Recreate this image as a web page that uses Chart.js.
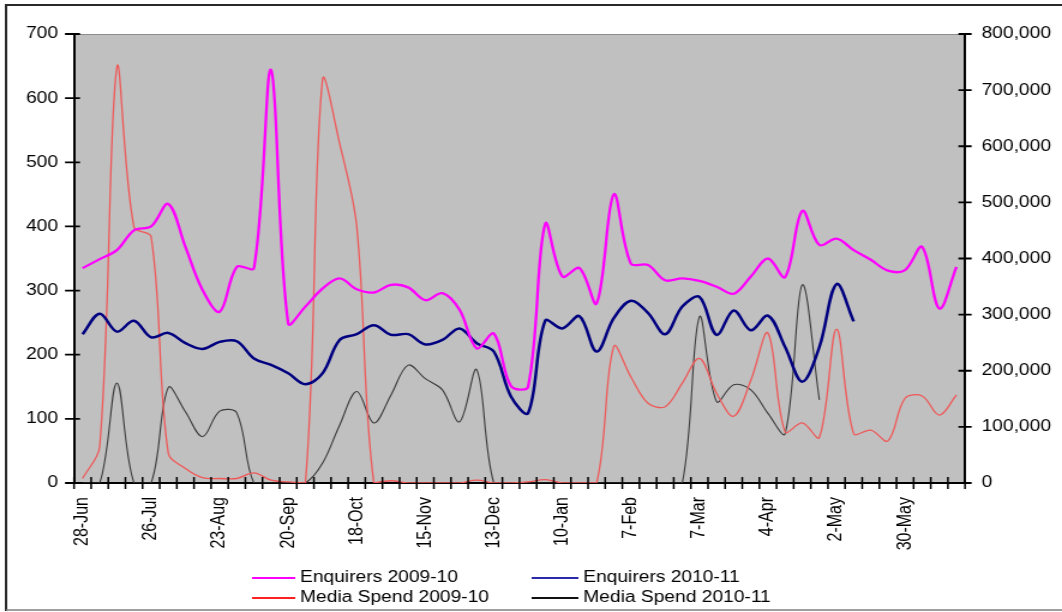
<!DOCTYPE html>
<html>
<head>
<meta charset="utf-8">
<script src="https://cdn.jsdelivr.net/npm/chart.js@4.4.1/dist/chart.umd.min.js"></script>
<style>
html,body{margin:0;padding:0;background:#fff;overflow:hidden;width:1062px;height:612px;}
#wrap{position:absolute;left:0;top:0;width:885px;height:612px;transform:scaleX(1.2);transform-origin:0 0;}
canvas{display:block;}
</style>
</head>
<body>
<div id="wrap"><canvas id="c" width="885" height="612"></canvas></div>
<script>
// ---- data ----
const weeks = ['28-Jun','5-Jul','12-Jul','19-Jul','26-Jul','2-Aug','9-Aug','16-Aug','23-Aug','30-Aug',
  '6-Sep','13-Sep','20-Sep','27-Sep','4-Oct','11-Oct','18-Oct','25-Oct','1-Nov','8-Nov',
  '15-Nov','22-Nov','29-Nov','6-Dec','13-Dec','20-Dec','27-Dec','3-Jan','10-Jan','17-Jan',
  '24-Jan','31-Jan','7-Feb','14-Feb','21-Feb','28-Feb','7-Mar','14-Mar','21-Mar','28-Mar',
  '4-Apr','11-Apr','18-Apr','25-Apr','2-May','9-May','16-May','23-May','30-May','6-Jun',
  '13-Jun','20-Jun'];
const labelEvery = 4;

const enquirers0910 = [335,349,363,394,400,435,368,301,267,337,
  335,644,249,275,303,319,302,297,309,305,
  285,296,270,210,233,151,150,404,322,335,
  280,450,342,340,316,319,315,306,295,322,
  350,321,424,371,381,363,348,331,332,368,
  272,337];
const enquirers1011 = [232,264,236,253,227,234,218,209,220,221,
  194,184,171,154,171,223,232,246,231,232,
  216,223,241,218,205,135,109,253,241,260,
  205,257,284,265,232,275,290,231,269,238,
  261,212,158,212,310,252];
const mediaSpend0910 = [8000,65000,740000,456000,439000,53000,26000,9500,8000,8000,
  18000,5000,2000,0,718000,605000,457000,0,4000,0,
  0,0,0,5000,0,0,2000,6000,0,0,
  0,243000,189000,142000,136000,178000,222000,160000,119000,183000,
  267000,91000,107000,81000,274000,88000,94000,75000,151000,155000,
  121000,157000];
const mediaSpend1011 = [0,0,178000,0,0,170000,127000,82500,128000,125000,
  0,0,0,0,35000,103000,163000,107000,157000,210000,
  186000,166000,109000,202000,0,0,0,0,0,0,
  0,0,0,0,0,0,296000,145000,175000,166000,
  124000,88000,353000,148000];

const leftTickValues = [0,100,200,300,400,500,600,700];
const rightTickValues = [0,100000,200000,300000,400000,500000,600000,700000,800000];

// ---- layout (logical px; the canvas is stretched 1.2x horizontally) ----
const S = 1.2, W = 885, H = 612;
const AREA = {left: 74 / S, right: 965 / S, top: 34, bottom: 483};
const FONT = '"Liberation Sans", Arial, sans-serif';
Chart.defaults.font.family = FONT;
Chart.defaults.font.size = 16;
Chart.defaults.color = '#000';

const decor = {
  id: 'decor',
  beforeDraw(chart) {
    const {ctx, chartArea: a} = chart;
    ctx.save();
    ctx.fillStyle = '#fff';
    ctx.fillRect(0, 0, chart.width, chart.height);
    ctx.fillStyle = '#c0c0c0';
    ctx.fillRect(a.left, a.top, a.right - a.left, a.bottom - a.top);
    ctx.strokeStyle = '#8c8c8c';
    ctx.lineWidth = 1;
    ctx.beginPath();
    ctx.moveTo(a.left, a.top + 0.5);
    ctx.lineTo(a.right, a.top + 0.5);
    ctx.stroke();
    ctx.restore();
  },
  afterDatasetsDraw(chart) {
    const {ctx, chartArea: a, scales} = chart;
    ctx.save();
    ctx.strokeStyle = '#000';
    ctx.lineWidth = 1.8;
    ctx.beginPath();
    scales.y.ticks.forEach(t => {
      const py = scales.y.getPixelForValue(t.value);
      ctx.moveTo(a.left - 7.5, py); ctx.lineTo(a.left + 5, py);
    });
    scales.y1.ticks.forEach(t => {
      const py = scales.y1.getPixelForValue(t.value);
      ctx.moveTo(a.right - 5.5, py); ctx.lineTo(a.right + 5.5, py);
    });
    ctx.stroke();
    ctx.lineWidth = 1.5;
    ctx.beginPath();
    for (let i = 0; i <= weeks.length; i++) {
      const px = scales.x.getPixelForValue(i - 0.5);
      ctx.moveTo(px, a.bottom - 6); ctx.lineTo(px, a.bottom + 6);
    }
    ctx.stroke();
    ctx.restore();
  },
  afterDraw(chart) {
    const {ctx} = chart;
    ctx.save();
    // legend (2 x 2)
    const cols = [{x0: 210, x1: 246, tx: 250}, {x0: 443, x1: 482, tx: 486}];
    const rows = [578, 598];
    ctx.font = '16px ' + FONT;
    ctx.textBaseline = 'middle';
    ctx.textAlign = 'left';
    chart.data.datasets.forEach((ds, i) => {
      const c = cols[i % 2], r = rows[Math.floor(i / 2)];
      ctx.strokeStyle = ds.legendColor || ds.borderColor;
      ctx.lineWidth = 2;
      ctx.beginPath(); ctx.moveTo(c.x0, r); ctx.lineTo(c.x1, r); ctx.stroke();
      ctx.fillStyle = '#000';
      ctx.fillText(ds.label, c.tx, r);
    });
    // outer frame
    ctx.strokeStyle = '#2a2a2a';
    ctx.lineWidth = 2;
    ctx.beginPath();
    ctx.moveTo(5, 611); ctx.lineTo(5, 5); ctx.lineTo(W + 5, 5);
    ctx.stroke();
    ctx.strokeStyle = '#808080';
    ctx.lineWidth = 1.5;
    ctx.beginPath();
    ctx.moveTo(5, 610); ctx.lineTo(W + 5, 610);
    ctx.stroke();
    ctx.restore();
  }
};

new Chart(document.getElementById('c'), {
  type: 'line',
  data: {
    labels: weeks,
    datasets: [
      {label: 'Enquirers 2009-10', data: enquirers0910, borderColor: '#ff00ff', borderWidth: 2.3, yAxisID: 'y'},
      {label: 'Enquirers 2010-11', data: enquirers1011, borderColor: '#000080', legendColor: '#2a2aa8', borderWidth: 2.5, yAxisID: 'y'},
      {label: 'Media Spend 2009-10', data: mediaSpend0910, borderColor: '#f05858', legendColor: '#ff2020', borderWidth: 1.3, yAxisID: 'y1'},
      {label: 'Media Spend 2010-11', data: mediaSpend1011, borderColor: '#3a3a3a', legendColor: '#111', borderWidth: 1.1, yAxisID: 'y1'}
    ]
  },
  options: {
    responsive: false,
    animation: false,
    layout: {padding: {top: AREA.top, left: 0, right: 0, bottom: 0}},
    elements: {
      point: {radius: 0},
      line: {tension: 0.35, fill: false}
    },
    plugins: {legend: {display: false}, tooltip: {enabled: false}},
    scales: {
      x: {
        type: 'category',
        offset: true,
        grid: {display: false, drawTicks: false},
        border: {display: true, color: '#000', width: 2},
        ticks: {
          autoSkip: false, maxRotation: 90, minRotation: 90, padding: 14,
          callback: (v, i) => (i % labelEvery === 0 ? weeks[i] : '')
        },
        afterFit: s => { s.height = H - AREA.bottom; }
      },
      y: {
        position: 'left', min: 0, max: 700,
        afterBuildTicks: s => { s.ticks = leftTickValues.map(v => ({value: v})); },
        grid: {display: false, drawTicks: false},
        border: {display: true, color: '#000', width: 2},
        ticks: {padding: 13.3},
        afterFit: s => { s.width = AREA.left; }
      },
      y1: {
        position: 'right', min: 0, max: 800000,
        afterBuildTicks: s => { s.ticks = rightTickValues.map(v => ({value: v})); },
        grid: {display: false, drawTicks: false},
        border: {display: true, color: '#000', width: 2},
        ticks: {padding: 13.8, callback: v => Number(v).toLocaleString('en-US')},
        afterFit: s => { s.width = W - AREA.right; }
      }
    }
  },
  plugins: [decor]
});
</script>
</body>
</html>
